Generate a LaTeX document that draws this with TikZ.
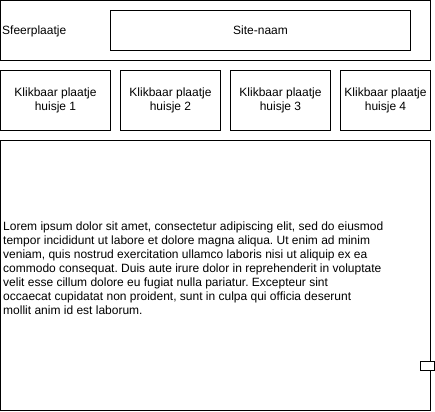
\documentclass[tikz,border=0pt]{standalone}
\usepackage{fontspec}
\setmainfont{Liberation Sans}
\usetikzlibrary{positioning}
\frenchspacing

\begin{document}
\begin{tikzpicture}[x=1pt, y=-1pt, font=\fontsize{12}{14}\selectfont, node distance=10pt,
    box/.style={draw, rectangle, line width=1pt, inner sep=0pt, outer sep=0pt, align=center},
    house/.style={box, minimum height=60pt}]
    \useasboundingbox (0,0) rectangle (435,411);
    % Nodes {header, houses, content}
    \node [box, minimum width=430pt, minimum height=60pt]  (header)   at (215.5,30.5)  {};
    \node [box, minimum width=300pt, minimum height=40pt]  (sitenaam) at (260.5,30.5)  {Site-naam};
    \node [anchor=base west, inner sep=0pt]                (sfeer)    at (2,34.5)      {Sfeerplaatje};
    \node [house, minimum width=110pt]  (h1)  at (55.5,100.5)  {Klikbaar plaatje\\huisje 1};
    \node [house, minimum width=100pt]  (h2)  [right=of h1]    {Klikbaar plaatje\\huisje 2};
    \node [house, minimum width=100pt]  (h3)  [right=of h2]    {Klikbaar plaatje\\huisje 3};
    \node [house, minimum width=90pt]   (h4)  [right=of h3]    {Klikbaar plaatje\\huisje 4};
    \node [box, minimum width=430pt, minimum height=270pt] (content) at (215.5,275.5) {};
    \node [anchor=west, inner sep=0pt, align=left] (lorem) at (3,268.5)
        {Lorem ipsum dolor sit amet, consectetur adipiscing elit, sed do eiusmod\\
         tempor incididunt ut labore et dolore magna aliqua. Ut enim ad minim\\
         veniam, quis nostrud exercitation ullamco laboris nisi ut aliquip ex ea\\
         commodo consequat. Duis aute irure dolor in reprehenderit in voluptate\\
         velit esse cillum dolore eu fugiat nulla pariatur. Excepteur sint\\
         occaecat cupidatat non proident, sunt in culpa qui officia deserunt\\
         mollit anim id est laborum.};
    \node [box, fill=white, minimum width=14pt, minimum height=9pt] (handle) at (427.5,365.5) {};

\end{tikzpicture}
\end{document}
